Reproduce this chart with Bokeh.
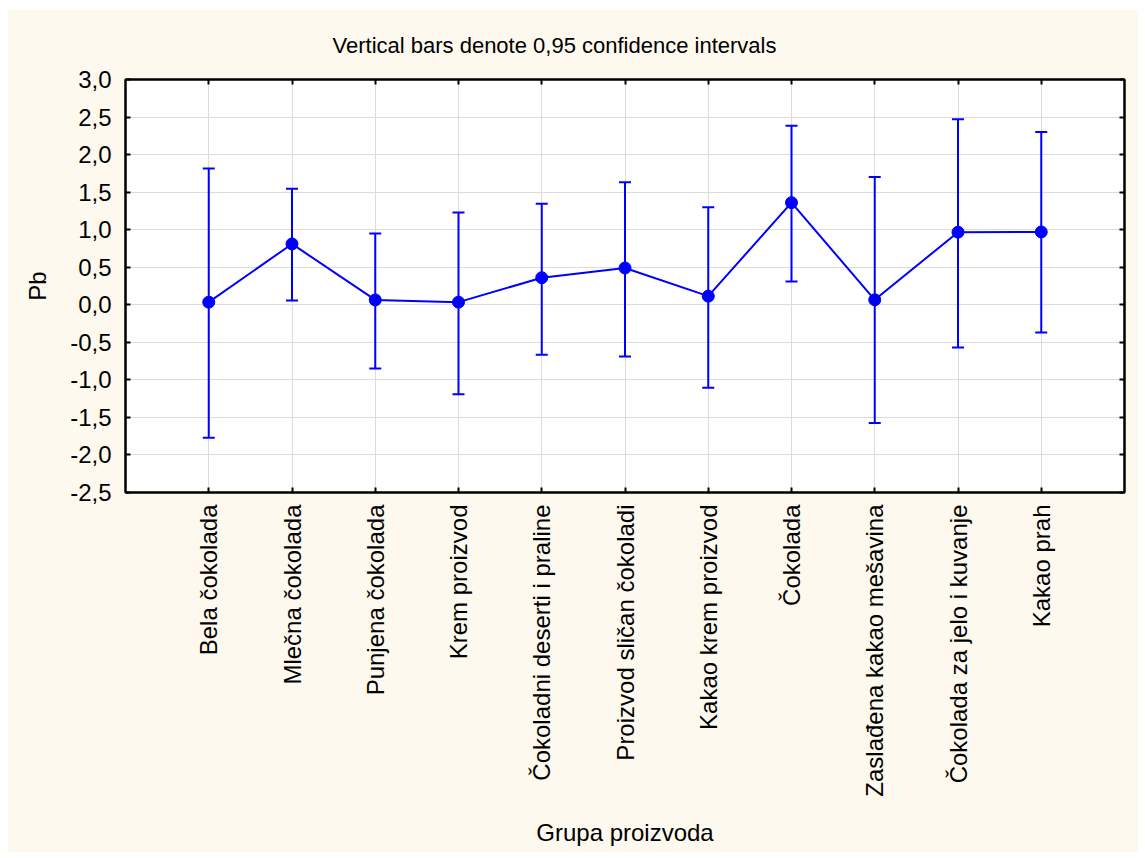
import math
from bokeh.plotting import figure
from bokeh.models import (ColumnDataSource, Whisker, TeeHead, LinearAxis, CategoricalAxis,
                          FixedTicker, Range1d, FactorRange, Title)
from bokeh.embed import file_html
from bokeh.resources import INLINE

categories = ["Bela čokolada", "Mlečna čokolada", "Punjena čokolada", "Krem proizvod",
              "Čokoladni deserti i praline", "Proizvod sličan čokoladi", "Kakao krem proizvod",
              "Čokolada", "Zaslađena kakao mešavina", "Čokolada za jelo i kuvanje", "Kakao prah"]
means = [0.035, 0.81, 0.065, 0.035, 0.36, 0.49, 0.115, 1.36, 0.066, 0.967, 0.97]
upper = [1.815, 1.545, 0.95, 1.23, 1.345, 1.63, 1.30, 2.385, 1.70, 2.47, 2.30]
lower = [-1.77, 0.057, -0.85, -1.19, -0.665, -0.69, -1.105, 0.31, -1.575, -0.57, -0.37]
y_ticks = [-2.5, -2.0, -1.5, -1.0, -0.5, 0.0, 0.5, 1.0, 1.5, 2.0, 2.5, 3.0]
y_tick_labels = ["-2,5", "-2,0", "-1,5", "-1,0", "-0,5", "0,0", "0,5", "1,0", "1,5", "2,0", "2,5", "3,0"]

FONT = "Liberation Sans"
BG = "#FEF9EE"
BLUE = "#0000FF"
FS = "24px"

src = ColumnDataSource(dict(x=categories, y=means, upper=upper, lower=lower))

p = figure(width=1131, height=843, output_backend="svg", toolbar_location=None,
           x_range=FactorRange(*categories, range_padding=0.5, range_padding_units="absolute"),
           y_range=Range1d(-2.5, 3.0),
           min_border_left=118, min_border_right=14, min_border_top=70, min_border_bottom=360)
p.margin = (9, 0, 0, 7)

p.background_fill_color = "white"
p.border_fill_color = BG
p.outline_line_color = "black"
p.outline_line_width = 2

p.title = Title(text="Vertical bars denote 0,95 confidence intervals", align="left",
                offset=207, text_font=FONT, text_font_size="22px", text_font_style="normal",
                text_color="black", standoff=43)

# grids
p.xgrid.grid_line_color = "#DCDCDC"
p.ygrid.grid_line_color = "#DCDCDC"
p.ygrid.ticker = FixedTicker(ticks=y_ticks)

# left axis
ya = p.yaxis[0]
ya.ticker = FixedTicker(ticks=y_ticks)
ya.major_label_overrides = {t: l for t, l in zip(y_ticks, y_tick_labels)}
ya.axis_label = "Pb"
ya.axis_label_text_font = FONT
ya.axis_label_text_font_size = FS
ya.axis_label_text_font_style = "normal"
ya.axis_label_text_color = "black"
ya.axis_label_standoff = 16
ya.major_label_text_font = FONT
ya.major_label_text_font_size = FS
ya.major_label_text_color = "black"
ya.major_label_standoff = 14
ya.major_tick_in = 5
ya.major_tick_out = 0
ya.minor_tick_line_color = None
ya.axis_line_width = 2
ya.major_tick_line_width = 2

# bottom axis
xa = p.xaxis[0]
xa.axis_label = "Grupa proizvoda"
xa.axis_label_text_font = FONT
xa.axis_label_text_font_size = FS
xa.axis_label_text_font_style = "normal"
xa.axis_label_text_color = "black"
xa.axis_label_standoff = 19
xa.major_label_text_font = FONT
xa.major_label_text_font_size = FS
xa.major_label_text_color = "black"
xa.major_label_orientation = math.pi / 2
xa.major_label_standoff = 12
xa.major_tick_in = 5
xa.major_tick_out = 0
xa.axis_line_width = 2
xa.major_tick_line_width = 2

# right axis (ticks only)
ra = LinearAxis(ticker=FixedTicker(ticks=y_ticks), major_label_text_color=None,
                major_label_text_font_size="1px",
                major_tick_in=5, major_tick_out=0, minor_tick_line_color=None,
                axis_line_width=2, major_tick_line_width=2, major_label_standoff=0)
p.add_layout(ra, "right")

# top axis (ticks only)
ta = CategoricalAxis(major_label_text_color=None, major_label_text_font_size="1px",
                     major_tick_in=5, major_tick_out=0,
                     axis_line_width=2, major_tick_line_width=2, major_label_standoff=0)
p.add_layout(ta, "above")

# error bars
w = Whisker(source=src, base="x", upper="upper", lower="lower",
            line_color=BLUE, line_width=2,
            upper_head=TeeHead(size=12, line_color=BLUE, line_width=2),
            lower_head=TeeHead(size=12, line_color=BLUE, line_width=2))
p.add_layout(w)

p.line("x", "y", source=src, line_color=BLUE, line_width=2)
p.scatter("x", "y", source=src, size=12, fill_color=BLUE, line_color=BLUE)

open("out.html", "w").write(file_html(p, INLINE))
